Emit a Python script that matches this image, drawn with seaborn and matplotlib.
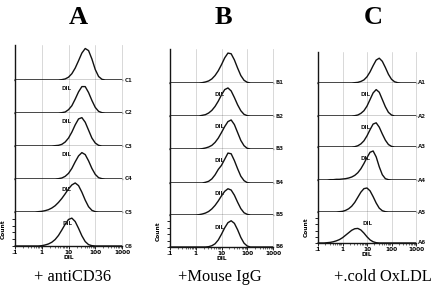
import numpy as np
import matplotlib
matplotlib.use("Agg")
import matplotlib.pyplot as plt
import seaborn as sns

# DIL fluorescence channels, log10 units (.1 .. 1000)
LOG_DIL = np.linspace(-1, 3, 33)

# each histogram: (first non-empty bin, counts in % of row height)
CURVES_A = [
    (14, [1, 3, 8, 18, 34, 55, 77, 90, 84, 60, 30, 10, 2]),
    (14, [1, 3, 10, 22, 42, 64, 80, 80, 62, 38, 17, 5, 1]),
    (12, [1, 2, 5, 12, 24, 42, 64, 82, 86, 72, 48, 24, 9, 2]),
    (13, [1, 3, 8, 17, 32, 52, 70, 80, 74, 55, 32, 14, 4, 1]),
    (7, [1, 2, 4, 7, 12, 19, 29, 41, 55, 70, 82, 88, 80, 60, 36, 16, 5, 1]),
    (8, [1, 3, 6, 11, 19, 31, 47, 64, 78, 82, 72, 52, 30, 13, 4, 1]),
]
CURVES_B = [
    (10, [1, 3, 6, 12, 22, 36, 54, 74, 88, 86, 68, 44, 22, 8, 2]),
    (10, [2, 4, 9, 17, 29, 45, 64, 80, 85, 76, 56, 34, 16, 5, 1]),
    (10, [1, 3, 6, 11, 20, 33, 50, 68, 83, 88, 74, 50, 26, 10, 2]),
    (11, [2, 5, 12, 24, 40, 52, 70, 88, 86, 66, 42, 20, 7, 1]),
    (9, [1, 3, 6, 11, 19, 30, 44, 60, 74, 82, 78, 62, 40, 20, 7, 2]),
    (12, [1, 4, 10, 22, 40, 60, 76, 82, 74, 54, 30, 12, 3]),
]
CURVES_C = [
    (12, [1, 2, 5, 10, 20, 36, 56, 74, 80, 70, 50, 28, 12, 4, 1]),
    (12, [1, 3, 8, 16, 30, 50, 70, 80, 72, 50, 28, 11, 3]),
    (12, [1, 4, 10, 20, 36, 56, 74, 78, 64, 42, 22, 8, 2]),
    (4, [1, 1, 2, 2, 3, 4, 6, 9, 14, 22, 34, 50, 68, 84, 88, 70, 40, 16, 4, 1]),
    (7, [1, 2, 5, 10, 18, 30, 46, 62, 73, 75, 66, 48, 28, 12, 4, 1]),
    (3, [1, 2, 4, 7, 11, 17, 25, 33, 41, 46, 47, 42, 32, 20, 10, 4, 1]),
]

TAGS_A = ["C1", "C2", "C3", "C4", "C5", "C6"]
TAGS_B = ["B1", "B2", "B3", "B4", "B5", "B6"]
TAGS_C = ["A1", "A2", "A3", "A4", "A5", "A6"]

# "DIL" marker next to each histogram (log10 x, % height), None = no marker
DIL_A = [None, (0.91, 73), (0.91, 73), (0.91, 73), (0.91, 67), (0.98, 67)]
DIL_B = [None, (0.94, 64), (0.94, 67), (0.94, 67), (0.94, 67), (0.94, 61)]
DIL_C = [None, (0.92, 64), (0.92, 62), (0.92, 66), None, (1.04, 62)]

TICK_LABELS = [".1", "1", "10", "100", "1000"]

W, H = 440, 291

sns.set_style("white")
plt.rcParams["font.family"] = ["DejaVu Sans"]
plt.rcParams["text.color"] = "black"
plt.rcParams["axes.labelcolor"] = "black"
plt.rcParams["xtick.color"] = "black"
plt.rcParams["ytick.color"] = "black"

fig = plt.figure(figsize=(W / 100, H / 100), dpi=100)


def axes_px(left, top, right, bottom):
    return fig.add_axes([left / W, 1 - bottom / H, (right - left) / W, (bottom - top) / H])


panels = [
    dict(title="A", caption="+ antiCD36", curves=CURVES_A, tags=TAGS_A, dil=DIL_A,
         left=15, right=122, top=45, bases=[80, 113, 146, 179, 212, 246], tx=78, cx=73),
    dict(title="B", caption="+Mouse IgG", curves=CURVES_B, tags=TAGS_B, dil=DIL_B,
         left=170, right=273, top=49, bases=[83, 116, 149, 183, 215, 247], tx=223, cx=220),
    dict(title="C", caption="+.cold OxLDL", curves=CURVES_C, tags=TAGS_C, dil=DIL_C,
         left=318, right=416, top=52, bases=[83, 116, 147, 180, 212, 243], tx=373, cx=383),
]

minor = np.log10(np.outer(10.0 ** np.arange(-1, 3), np.arange(2, 10)).ravel())

for p in panels:
    top = p["top"]
    for i, base in enumerate(p["bases"]):
        ax = axes_px(p["left"], top, p["right"], base)
        top = base
        start, vals = p["curves"][i]
        counts = np.zeros(len(LOG_DIL))
        counts[start:start + len(vals)] = vals
        for g in [0, 1, 2]:
            ax.axvline(g, color="#d2d2d2", lw=0.6, zorder=0)
        sns.lineplot(x=LOG_DIL, y=counts, ax=ax, color="#111111", lw=1.0, clip_on=False)
        ax.set_xlim(-1, 3)
        ax.set_ylim(0, 100)
        ax.spines["top"].set_visible(False)
        ax.spines["right"].set_color("#d2d2d2")
        ax.spines["right"].set_linewidth(0.6)
        for s in ["left", "bottom"]:
            ax.spines[s].set_color("#151515")
            ax.spines[s].set_linewidth(1.0)
        ax.text(1.025, 0, p["tags"][i], transform=ax.transAxes, ha="left", va="center",
                fontsize=4, fontweight="bold", color="#222222")
        if p["dil"][i] is not None:
            dx, dy = p["dil"][i]
            ax.text(dx, dy, "DIL", ha="center", va="center", fontsize=4,
                    fontweight="bold", color="#222222")
        if i < 5:
            ax.set_xticks([])
            ax.set_yticks([])
        else:
            ax.set_xticks([-1, 0, 1, 2, 3])
            ax.set_xticklabels(TICK_LABELS)
            ax.set_xticks(minor, minor=True)
            ax.set_yticks([0, 20, 40, 60, 80])
            ax.set_yticklabels([])
            ax.tick_params(axis="x", which="major", length=2, width=0.6, pad=1,
                           labelsize=4.2, direction="out", bottom=True)
            ax.tick_params(axis="x", which="minor", length=1.2, width=0.4, bottom=True)
            ax.tick_params(axis="y", length=2, width=0.6, left=True)
            for t in ax.get_xticklabels():
                t.set_fontweight("bold")
            ax.set_xlabel("DIL", fontsize=4.2, fontweight="bold", labelpad=0)
            ax.set_ylabel("Count", fontsize=4.2, fontweight="bold", labelpad=1)
    fig.text(p["tx"] / W, 1 - 18 / H, p["title"], ha="center", va="center",
             fontsize=19, fontweight="bold", family="Liberation Serif")
    fig.text(p["cx"] / W, 1 - 277 / H, p["caption"], ha="center", va="center",
             fontsize=11.8, family="Liberation Serif")

fig.savefig("out.png", dpi=100)
